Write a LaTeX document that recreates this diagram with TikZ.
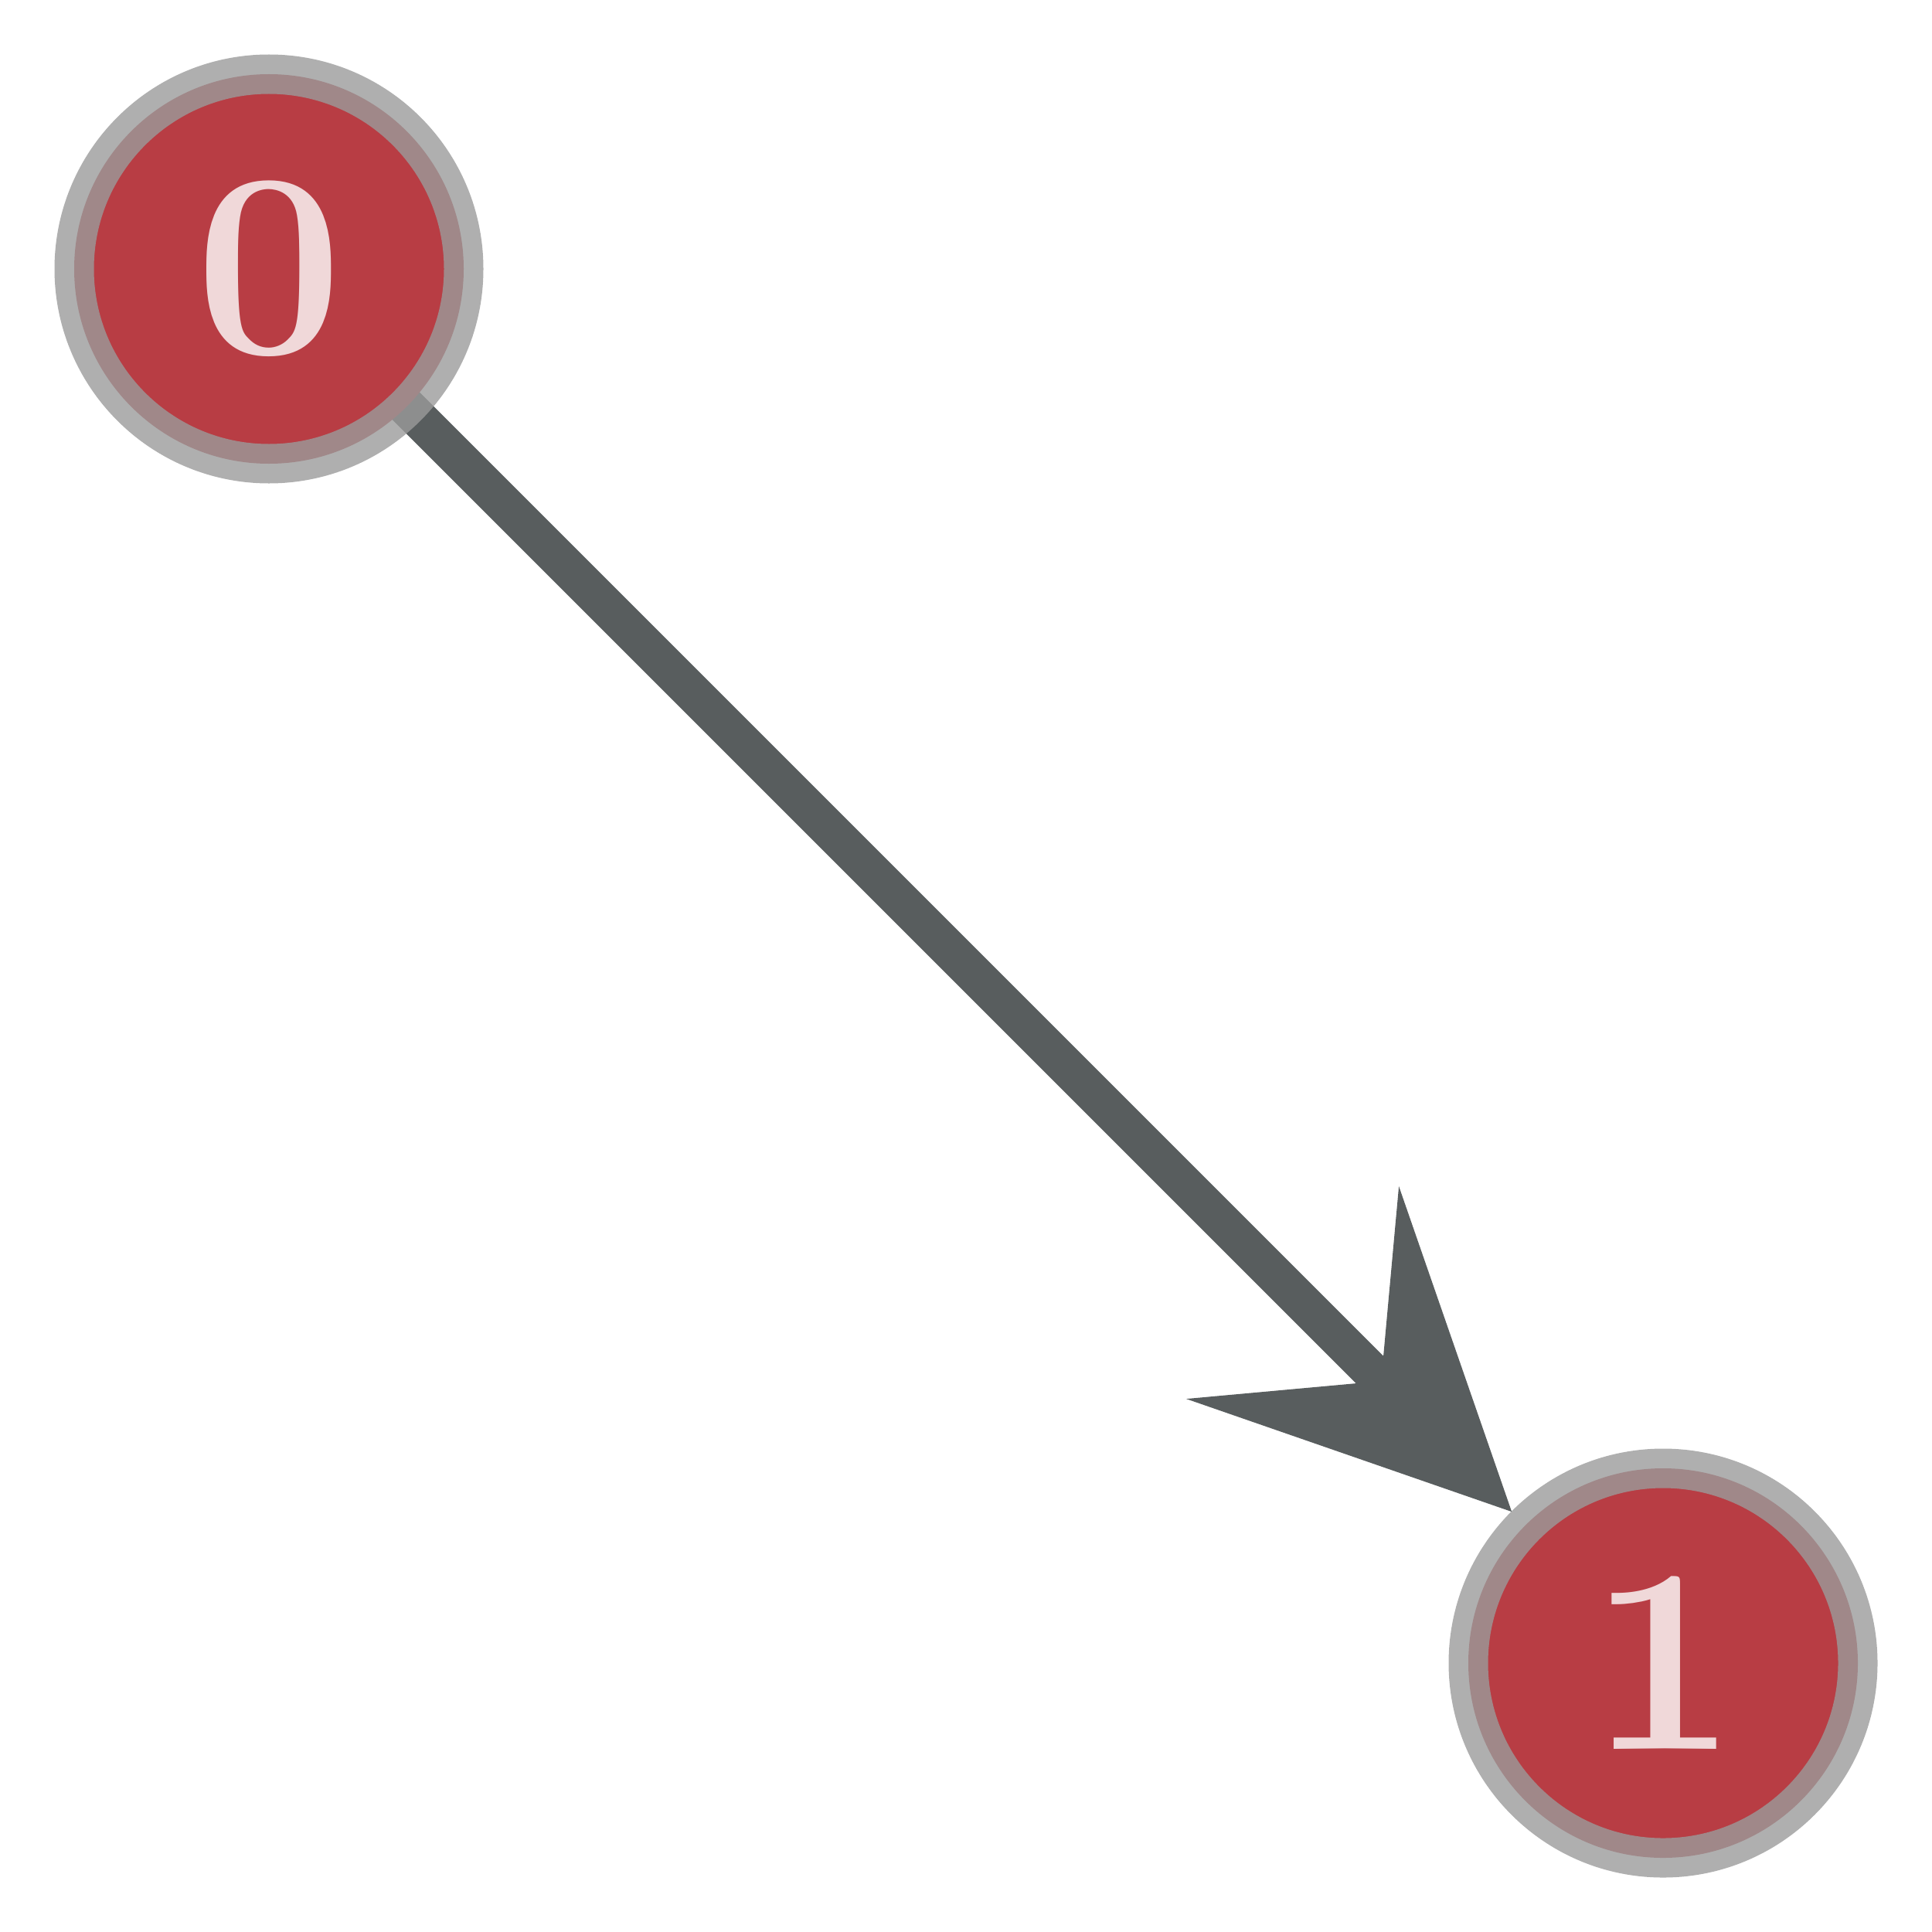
\documentclass[tikz,border=0pt]{standalone}
\usetikzlibrary{calc}
\definecolor{nodered}{RGB}{184,61,68}
\definecolor{ringgray}{RGB}{155,155,155}
\definecolor{edgegray}{RGB}{88,93,94}
\definecolor{labelpink}{RGB}{240,216,217}
\tikzset{
  vtx/.style={circle, minimum size=5.04cm, inner sep=0pt, fill=nodered,
    draw=ringgray, draw opacity=0.8, line width=0.51cm, text=labelpink,
    font=\fontsize{97}{97}\selectfont\bfseries},
  edgeline/.style={draw=edgegray, line width=0.5cm},
  arrowhead/.style={fill=edgegray}
}
\begin{document}
\begin{tikzpicture}
\useasboundingbox (0,0) rectangle (25,-25);
% positions
\coordinate (c0) at (3.48,-3.48);
\coordinate (c1) at (21.52,-21.52);
% edge and arrowhead (drawn beneath nodes)
\coordinate (tip) at ($(c1)!2.77cm!(c0)$);
\coordinate (notch) at ($(c1)!5.16cm!(c0)$);
\coordinate (base) at ($(c1)!6.78cm!(c0)$);
\coordinate (b1) at ($(base)!1.945cm!90:(c1)$);
\coordinate (b2) at ($(base)!1.945cm!-90:(c1)$);
\draw[edgeline] (c0) -- (notch);
\fill[arrowhead] (tip) -- (b1) -- (notch) -- (b2) -- cycle;
% nodes
\node[vtx] (n0) at (c0) {0};
\node[vtx] (n1) at (c1) {1};
\end{tikzpicture}
\end{document}
